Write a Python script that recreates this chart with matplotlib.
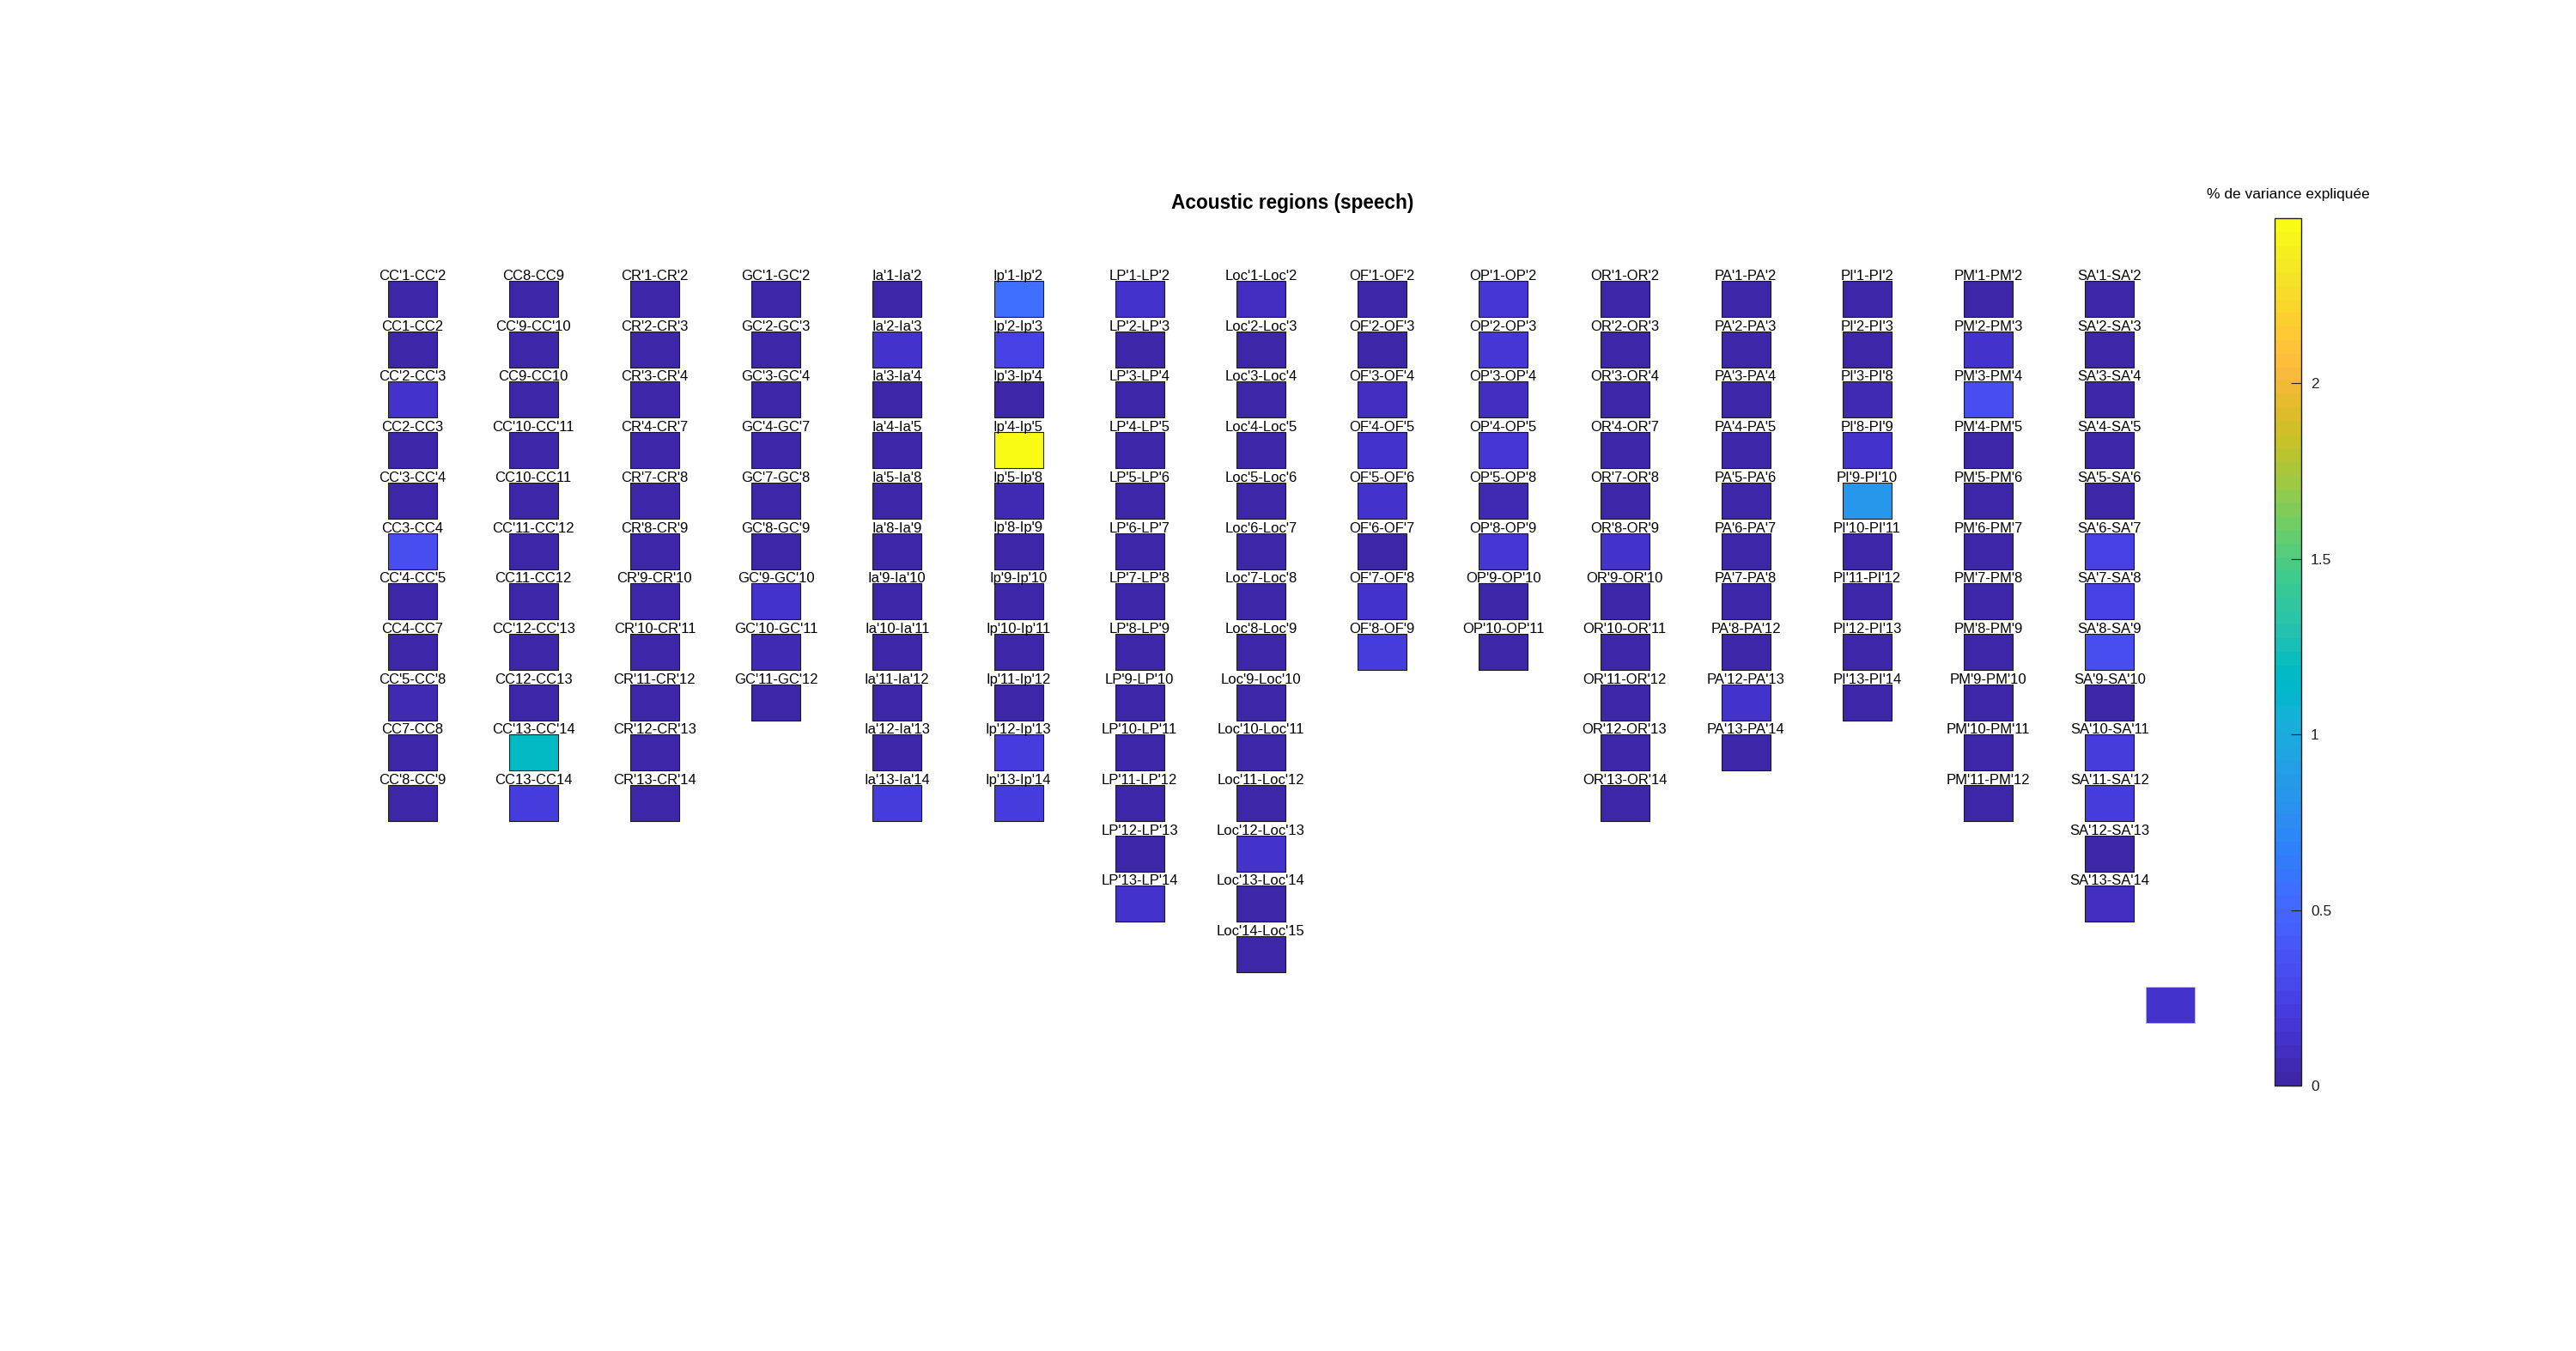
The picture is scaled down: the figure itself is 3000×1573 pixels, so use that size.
import numpy as np
import matplotlib
matplotlib.use("Agg")
import matplotlib.pyplot as plt
from matplotlib.colors import ListedColormap, Normalize
from matplotlib.patches import Rectangle
from matplotlib.collections import PatchCollection
import matplotlib.cm as cm

plt.rcParams['font.family'] = ['Liberation Sans', 'DejaVu Sans']

# ---------------- data ----------------
title = "Acoustic regions (speech)"
cbar_label = "% de variance expliquée"
vmax = 2.47
cbar_ticks = [0, 0.5, 1, 1.5, 2]

cc_labels = ["CC'1-CC'2", "CC1-CC2", "CC'2-CC'3", "CC2-CC3", "CC'3-CC'4", "CC3-CC4",
             "CC'4-CC'5", "CC4-CC7", "CC'5-CC'8", "CC7-CC8", "CC'8-CC'9"]
cc_values = [0.03, 0.03, 0.15, 0.03, 0.03, 0.32, 0.03, 0.03, 0.06, 0.03, 0.03]

ccp_labels = ["CC8-CC9", "CC'9-CC'10", "CC9-CC10", "CC'10-CC'11", "CC10-CC11", "CC'11-CC'12",
              "CC11-CC12", "CC'12-CC'13", "CC12-CC13", "CC'13-CC'14", "CC13-CC14"]
ccp_values = [0.03, 0.03, 0.03, 0.03, 0.03, 0.03, 0.03, 0.03, 0.03, 1.17, 0.22]

cr_labels = ["CR'1-CR'2", "CR'2-CR'3", "CR'3-CR'4", "CR'4-CR'7", "CR'7-CR'8", "CR'8-CR'9",
             "CR'9-CR'10", "CR'10-CR'11", "CR'11-CR'12", "CR'12-CR'13", "CR'13-CR'14"]
cr_values = [0.03, 0.03, 0.03, 0.03, 0.03, 0.03, 0.03, 0.03, 0.03, 0.03, 0.03]

gc_labels = ["GC'1-GC'2", "GC'2-GC'3", "GC'3-GC'4", "GC'4-GC'7", "GC'7-GC'8", "GC'8-GC'9",
             "GC'9-GC'10", "GC'10-GC'11", "GC'11-GC'12"]
gc_values = [0.03, 0.03, 0.03, 0.03, 0.03, 0.03, 0.14, 0.07, 0.03]

ia_labels = ["Ia'1-Ia'2", "Ia'2-Ia'3", "Ia'3-Ia'4", "Ia'4-Ia'5", "Ia'5-Ia'8", "Ia'8-Ia'9",
             "Ia'9-Ia'10", "Ia'10-Ia'11", "Ia'11-Ia'12", "Ia'12-Ia'13", "Ia'13-Ia'14"]
ia_values = [0.03, 0.15, 0.03, 0.03, 0.03, 0.03, 0.03, 0.03, 0.03, 0.03, 0.22]

ip_labels = ["Ip'1-Ip'2", "Ip'2-Ip'3", "Ip'3-Ip'4", "Ip'4-Ip'5", "Ip'5-Ip'8", "Ip'8-Ip'9",
             "Ip'9-Ip'10", "Ip'10-Ip'11", "Ip'11-Ip'12", "Ip'12-Ip'13", "Ip'13-Ip'14"]
ip_values = [0.55, 0.27, 0.03, 2.47, 0.06, 0.03, 0.03, 0.03, 0.03, 0.22, 0.23]

lp_labels = ["LP'1-LP'2", "LP'2-LP'3", "LP'3-LP'4", "LP'4-LP'5", "LP'5-LP'6", "LP'6-LP'7",
             "LP'7-LP'8", "LP'8-LP'9", "LP'9-LP'10", "LP'10-LP'11", "LP'11-LP'12",
             "LP'12-LP'13", "LP'13-LP'14"]
lp_values = [0.12, 0.03, 0.03, 0.03, 0.03, 0.03, 0.03, 0.03, 0.03, 0.03, 0.03, 0.03, 0.15]

loc_labels = ["Loc'1-Loc'2", "Loc'2-Loc'3", "Loc'3-Loc'4", "Loc'4-Loc'5", "Loc'5-Loc'6",
              "Loc'6-Loc'7", "Loc'7-Loc'8", "Loc'8-Loc'9", "Loc'9-Loc'10", "Loc'10-Loc'11",
              "Loc'11-Loc'12", "Loc'12-Loc'13", "Loc'13-Loc'14", "Loc'14-Loc'15"]
loc_values = [0.10, 0.03, 0.03, 0.03, 0.03, 0.03, 0.03, 0.03, 0.03, 0.03, 0.03, 0.14, 0.03, 0.03]

of_labels = ["OF'1-OF'2", "OF'2-OF'3", "OF'3-OF'4", "OF'4-OF'5", "OF'5-OF'6", "OF'6-OF'7",
             "OF'7-OF'8", "OF'8-OF'9"]
of_values = [0.03, 0.03, 0.08, 0.12, 0.12, 0.03, 0.14, 0.22]

op_labels = ["OP'1-OP'2", "OP'2-OP'3", "OP'3-OP'4", "OP'4-OP'5", "OP'5-OP'8", "OP'8-OP'9",
             "OP'9-OP'10", "OP'10-OP'11"]
op_values = [0.17, 0.18, 0.10, 0.18, 0.04, 0.18, 0.03, 0.03]

or_labels = ["OR'1-OR'2", "OR'2-OR'3", "OR'3-OR'4", "OR'4-OR'7", "OR'7-OR'8", "OR'8-OR'9",
             "OR'9-OR'10", "OR'10-OR'11", "OR'11-OR'12", "OR'12-OR'13", "OR'13-OR'14"]
or_values = [0.03, 0.03, 0.03, 0.03, 0.03, 0.12, 0.03, 0.03, 0.03, 0.03, 0.03]

pa_labels = ["PA'1-PA'2", "PA'2-PA'3", "PA'3-PA'4", "PA'4-PA'5", "PA'5-PA'6", "PA'6-PA'7",
             "PA'7-PA'8", "PA'8-PA'12", "PA'12-PA'13", "PA'13-PA'14"]
pa_values = [0.03, 0.03, 0.03, 0.03, 0.03, 0.03, 0.03, 0.03, 0.13, 0.03]

pi_labels = ["PI'1-PI'2", "PI'2-PI'3", "PI'3-PI'8", "PI'8-PI'9", "PI'9-PI'10", "PI'10-PI'11",
             "PI'11-PI'12", "PI'12-PI'13", "PI'13-PI'14"]
pi_values = [0.03, 0.03, 0.05, 0.12, 0.82, 0.03, 0.03, 0.03, 0.03]

pm_labels = ["PM'1-PM'2", "PM'2-PM'3", "PM'3-PM'4", "PM'4-PM'5", "PM'5-PM'6", "PM'6-PM'7",
             "PM'7-PM'8", "PM'8-PM'9", "PM'9-PM'10", "PM'10-PM'11", "PM'11-PM'12"]
pm_values = [0.03, 0.15, 0.33, 0.03, 0.03, 0.03, 0.03, 0.03, 0.03, 0.03, 0.03]

sa_labels = ["SA'1-SA'2", "SA'2-SA'3", "SA'3-SA'4", "SA'4-SA'5", "SA'5-SA'6", "SA'6-SA'7",
             "SA'7-SA'8", "SA'8-SA'9", "SA'9-SA'10", "SA'10-SA'11", "SA'11-SA'12",
             "SA'12-SA'13", "SA'13-SA'14"]
sa_values = [0.03, 0.03, 0.03, 0.03, 0.03, 0.24, 0.27, 0.32, 0.03, 0.20, 0.20, 0.03, 0.08]

extra_value = 0.12

columns = [(cc_labels, cc_values), (ccp_labels, ccp_values), (cr_labels, cr_values),
           (gc_labels, gc_values), (ia_labels, ia_values), (ip_labels, ip_values),
           (lp_labels, lp_values), (loc_labels, loc_values), (of_labels, of_values),
           (op_labels, op_values), (or_labels, or_values), (pa_labels, pa_values),
           (pi_labels, pi_values), (pm_labels, pm_values), (sa_labels, sa_values)]

# ---------------- parula colormap ----------------
parula_data = [
    [0.2422, 0.1504, 0.6603], [0.2504, 0.1650, 0.7076], [0.2578, 0.1818, 0.7511],
    [0.2647, 0.1978, 0.7952], [0.2706, 0.2147, 0.8364], [0.2751, 0.2342, 0.8710],
    [0.2783, 0.2559, 0.8991], [0.2803, 0.2782, 0.9221], [0.2813, 0.3006, 0.9414],
    [0.2810, 0.3228, 0.9579], [0.2795, 0.3447, 0.9717], [0.2760, 0.3667, 0.9829],
    [0.2699, 0.3892, 0.9906], [0.2602, 0.4123, 0.9952], [0.2440, 0.4358, 0.9988],
    [0.2206, 0.4603, 0.9973], [0.1963, 0.4847, 0.9892], [0.1834, 0.5074, 0.9798],
    [0.1786, 0.5289, 0.9682], [0.1764, 0.5499, 0.9520], [0.1687, 0.5703, 0.9359],
    [0.1540, 0.5902, 0.9218], [0.1460, 0.6091, 0.9079], [0.1380, 0.6276, 0.8973],
    [0.1248, 0.6459, 0.8883], [0.1113, 0.6635, 0.8763], [0.0952, 0.6798, 0.8598],
    [0.0689, 0.6948, 0.8394], [0.0297, 0.7082, 0.8163], [0.0036, 0.7203, 0.7917],
    [0.0067, 0.7312, 0.7660], [0.0433, 0.7411, 0.7394], [0.0964, 0.7500, 0.7120],
    [0.1408, 0.7584, 0.6842], [0.1717, 0.7670, 0.6554], [0.1938, 0.7758, 0.6251],
    [0.2161, 0.7843, 0.5923], [0.2470, 0.7918, 0.5567], [0.2906, 0.7973, 0.5188],
    [0.3406, 0.8008, 0.4789], [0.3909, 0.8029, 0.4354], [0.4456, 0.8024, 0.3909],
    [0.5044, 0.7993, 0.3480], [0.5616, 0.7942, 0.3045], [0.6174, 0.7876, 0.2612],
    [0.6720, 0.7793, 0.2227], [0.7242, 0.7698, 0.1910], [0.7738, 0.7598, 0.1646],
    [0.8203, 0.7498, 0.1535], [0.8634, 0.7406, 0.1596], [0.9035, 0.7330, 0.1774],
    [0.9393, 0.7288, 0.2100], [0.9728, 0.7298, 0.2394], [0.9956, 0.7434, 0.2371],
    [0.9970, 0.7659, 0.2199], [0.9952, 0.7893, 0.2028], [0.9892, 0.8136, 0.1885],
    [0.9786, 0.8386, 0.1766], [0.9676, 0.8639, 0.1643], [0.9610, 0.8890, 0.1537],
    [0.9597, 0.9135, 0.1423], [0.9628, 0.9373, 0.1265], [0.9691, 0.9606, 0.1064],
    [0.9769, 0.9839, 0.0805]]
parula = ListedColormap(parula_data, name="parula")
norm = Normalize(vmin=0, vmax=vmax)

# ---------------- layout ----------------
W, H = 3000, 1573
fig = plt.figure(figsize=(W / 100, H / 100), dpi=100)
ax = fig.add_axes([0, 0, 1, 1])
ax.set_xlim(0, W)
ax.set_ylim(H, 0)
ax.axis('off')

x0, dx = 480, 141.2      # column centre and pitch
y0, dy = 327, 58.7       # first box top and row pitch
bw, bh = 57, 42          # box size

patches, vals = [], []
for i, (labels, values) in enumerate(columns):
    xc = x0 + dx * i
    for j, (lab, v) in enumerate(zip(labels, values)):
        yt = y0 + dy * j
        patches.append(Rectangle((xc - bw / 2, yt), bw, bh))
        vals.append(v)
        ax.text(xc, yt - 1, lab, ha='center', va='baseline', fontsize=12, color='black')

pc = PatchCollection(patches, cmap=parula, norm=norm, edgecolor='#1a1a1a', linewidth=0.8)
pc.set_array(np.array(vals))
ax.add_collection(pc)

# extra square (no dark edge)
extra = PatchCollection([Rectangle((x0 + dx * 14.5 - bw / 2, y0 + dy * 14), bw, bh)],
                        cmap=parula, norm=norm, edgecolor='#b8b0e0', linewidth=0.6)
extra.set_array(np.array([extra_value]))
ax.add_collection(extra)

ax.text(1505, 236, title, ha='center', va='center', fontsize=16.3, fontweight='bold')

# ---------------- colorbar ----------------
cax = fig.add_axes([2649 / W, (H - 1264) / H, 31 / W, 1010 / H])
sm = cm.ScalarMappable(norm=norm, cmap=parula)
cb = fig.colorbar(sm, cax=cax, ticks=cbar_ticks)
cb.ax.set_yticklabels(['0', '0.5', '1', '1.5', '2'])
cb.ax.tick_params(direction='in', length=9, width=0.8, labelsize=12.5, pad=8, colors='#222222')
cb.outline.set_linewidth(1.0)
cb.outline.set_edgecolor('#222222')
cax.text(0.5, 1.02, cbar_label, transform=cax.transAxes, ha='center', va='bottom', fontsize=12.5)

fig.savefig('out.png', dpi=100)
